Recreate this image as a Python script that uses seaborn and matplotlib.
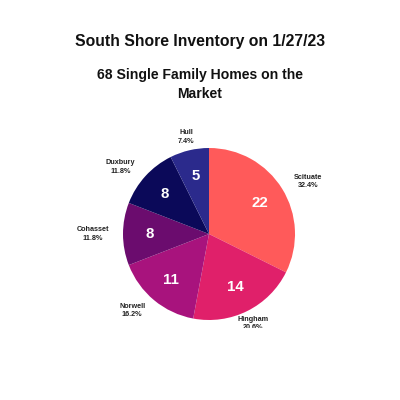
import matplotlib
matplotlib.use("Agg")
import numpy as np
import matplotlib.pyplot as plt
import seaborn as sns
from matplotlib.transforms import Bbox, TransformedBbox

towns = ["Scituate", "Hingham", "Norwell", "Cohasset", "Duxbury", "Hull"]
homes = [22, 14, 11, 8, 8, 5]
colors = ["#FF5A5A", "#E0206A", "#A8137D", "#6B0C6E", "#0B0959", "#2B2A8C"]
title = "South Shore Inventory on 1/27/23"
subtitle = "68 Single Family Homes on the\nMarket"

sns.set_theme(style="white")
plt.rcParams["font.family"] = ["Liberation Sans", "DejaVu Sans"]

total = sum(homes)
labels = [f"{t}\n{v / total * 100:.1f}%" for t, v in zip(towns, homes)]

fig = plt.figure(figsize=(4, 4), dpi=100)
fig.patch.set_facecolor("white")
ax = fig.add_axes([0.2, 0.0925, 0.645, 0.645])
palette = sns.color_palette(colors)
wedges, texts, autotexts = ax.pie(
    homes, labels=labels, colors=palette, startangle=90, counterclock=False,
    autopct=lambda p: f"{round(p * total / 100):d}", pctdistance=0.69,
    labeldistance=1.16, wedgeprops=dict(linewidth=0),
    textprops=dict(fontsize=5.2, fontweight="bold", color="#222222"))
for w, t in zip(wedges, texts):
    ang = np.deg2rad((w.theta1 + w.theta2) / 2)
    c = np.cos(ang)
    if abs(c) < 0.55:
        t.set_ha("center")
    else:
        t.set_ha("left" if c > 0 else "right")
    t.set_va("center")
    t.set_multialignment("center")
    t.set_linespacing(1.3)
for t in autotexts:
    t.set_color("white")
    t.set_fontsize(10.8)
    t.set_fontweight("bold")
ax.set_xlim(-1.5, 1.5)
ax.set_ylim(-1.5, 1.5)
ax.set_aspect("equal")
ax.axis("off")

clip = TransformedBbox(Bbox([[0, 72 / 400], [1, 1]]), fig.transFigure)
for t in texts:
    t.set_clip_box(clip)
    t.set_clip_on(True)

fig.text(0.5, 0.896, title, ha="center", va="center", fontsize=11.3, fontweight="bold", color="#111111")
fig.text(0.5, 0.789, subtitle, ha="center", va="center", fontsize=10.1, fontweight="bold",
         color="#111111", linespacing=1.45)

fig.savefig("out.png", dpi=100, facecolor="white")
